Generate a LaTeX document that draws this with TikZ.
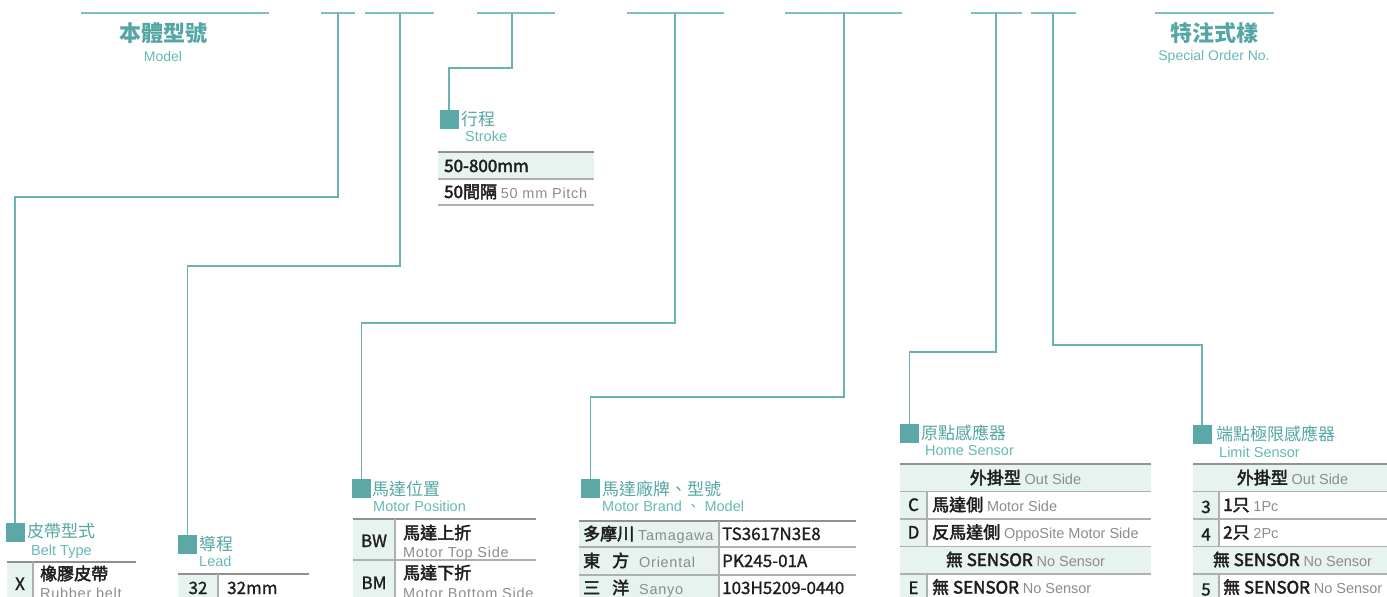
\documentclass[tikz,border=0pt]{standalone}
\usepackage{fontspec}
\setmainfont{Liberation Sans}
\newfontfamily\cjk{Noto Sans CJK TC}
\newfontfamily\cjkm[FakeBold=1.2]{Noto Sans CJK TC}
\newfontfamily\cjkb[FakeBold=2.6]{Noto Sans CJK TC}
\newfontfamily\engsp[LetterSpace=5]{Liberation Sans}
\newfontfamily\engn{Liberation Sans}
\definecolor{titleteal}{RGB}{84,166,165}
\definecolor{subteal}{RGB}{102,184,182}
\definecolor{sqteal}{RGB}{91,168,167}
\definecolor{connteal}{RGB}{104,178,178}
\definecolor{topteal}{RGB}{126,192,192}
\definecolor{cellg}{RGB}{230,243,239}
\definecolor{greytext}{RGB}{140,140,140}
\definecolor{txtblack}{RGB}{30,30,30}
\definecolor{tgray}{RGB}{145,145,145}
\definecolor{rgray}{RGB}{175,175,175}
\newcommand\gtx[1]{{\engsp\mdseries\fontsize{14.5}{14.5}\selectfont\color{greytext}#1}}
\newcommand\gts[1]{{\engn\mdseries\fontsize{14.5}{14.5}\selectfont\color{greytext}#1}}
\begin{document}
\begin{tikzpicture}[x=1pt,y=-1pt,
  topline/.style={draw=topteal,line width=2.2pt},
  conn/.style={draw=connteal,line width=1.4pt},
  sqbox/.style={fill=sqteal,minimum size=19pt,inner sep=0pt,outer sep=0pt},
  bigttl/.style={anchor=base,inner sep=0pt,text=titleteal,font=\cjk\bfseries\fontsize{22}{22}\selectfont},
  bigsub/.style={anchor=base,inner sep=0pt,text=subteal,font=\fontsize{14}{14}\selectfont},
  ttl/.style={anchor=base west,inner sep=0pt,text=titleteal,font=\cjk\fontsize{17}{17}\selectfont},
  subttl/.style={anchor=base west,inner sep=0pt,text=subteal,font=\fontsize{14.5}{14.5}\selectfont},
  cell/.style={anchor=base west,inner sep=0pt,text=txtblack,font=\cjkb\fontsize{17}{17}\selectfont},
  cellhd/.style={anchor=base,inner sep=0pt,text=txtblack,font=\cjkb\fontsize{17}{17}\selectfont},
  cellc/.style={anchor=base,inner sep=0pt,text=txtblack,font=\cjkm\fontsize{17}{17}\selectfont},
  cellm/.style={anchor=base west,inner sep=0pt,text=txtblack,font=\cjkm\fontsize{17}{17}\selectfont},
  grtxt/.style={anchor=base west,inner sep=0pt,text=greytext,font=\engsp\fontsize{14.5}{14.5}\selectfont},
  tline/.style={draw=tgray,line width=1.8pt},
  rline/.style={draw=rgray,line width=1.2pt},
  vline/.style={draw=rgray,line width=1.1pt}]
\useasboundingbox (0,0) rectangle (1387,597);
\clip (0,0) rectangle (1387,597);

% ---------- top segment lines ----------
\coordinate (l1a) at (81,13);   \coordinate (l1b) at (269,13);
\coordinate (l2a) at (321,13);  \coordinate (l2b) at (355,13);
\coordinate (l3a) at (365,13);  \coordinate (l3b) at (434,13);
\coordinate (l4a) at (477,13);  \coordinate (l4b) at (555,13);
\coordinate (l5a) at (627,13);  \coordinate (l5b) at (724,13);
\coordinate (l6a) at (785,13);  \coordinate (l6b) at (902,13);
\coordinate (l7a) at (971,13);  \coordinate (l7b) at (1022,13);
\coordinate (l8a) at (1031,13); \coordinate (l8b) at (1076,13);
\coordinate (l9a) at (1155,13); \coordinate (l9b) at (1274,13);
\foreach \i in {1,...,9} {\draw[topline] (l\i a) -- (l\i b);}

% ---------- big titles ----------
\node[bigttl] (model) at (163,41) {本體型號};
\node[bigsub] (modelen) at (163,61.5) {Model};
\node[bigttl] (special) at (1214,41) {特注式樣};
\node[bigsub] (specialen) at (1214,60) {Special Order No.};

% ---------- squares and titles ----------
\node[sqbox] (sqBelt) at (15,532) {};
\node[ttl] (tBelt) at (27,537.5) {皮帶型式};
\node[subttl] (eBelt) at (31,555.5) {Belt Type};

\node[sqbox] (sqLead) at (187.5,544) {};
\node[ttl] (tLead) at (199,550.5) {導程};
\node[subttl] (eLead) at (199,566.5) {Lead};

\node[sqbox] (sqStroke) at (449,119) {};
\node[ttl] (tStroke) at (461,125.5) {行程};
\node[subttl] (eStroke) at (465,141.5) {Stroke};

\node[sqbox] (sqPos) at (361.5,488.5) {};
\node[ttl] (tPos) at (372,495.5) {馬達位置};
\node[subttl] (ePos) at (373,511.5) {Motor Position};

\node[sqbox] (sqBrand) at (590.5,488.5) {};
\node[ttl] (tBrand) at (602,495.5) {馬達廠牌、型號};
\node[subttl] (eBrand) at (602,511.5) {Motor Brand {\cjk 、} Model};

\node[sqbox] (sqHome) at (909.5,433.5) {};
\node[ttl] (tHome) at (921,439.5) {原點感應器};
\node[subttl] (eHome) at (925,455.5) {Home Sensor};

\node[sqbox] (sqLimit) at (1202,434) {};
\node[ttl] (tLimit) at (1216,440.5) {端點極限感應器};
\node[subttl] (eLimit) at (1219,457.5) {Limit Sensor};

% ---------- connectors ----------
\coordinate (t2) at (338,13);  \coordinate (b2) at (338,197);
\coordinate (t3) at (400,13);  \coordinate (b3) at (400,266);
\coordinate (t4) at (512,13);  \coordinate (b4) at (512,68);
\coordinate (t5) at (675,13);  \coordinate (b5) at (675,323);
\coordinate (t6) at (844,13);  \coordinate (b6) at (844,397);
\coordinate (t7) at (996,13);  \coordinate (b7) at (996,352);
\coordinate (t8) at (1053,13); \coordinate (b8) at (1053,345);
\draw[conn] (t2) -- (b2) -| (sqBelt.north);
\draw[conn] (t3) -- (b3) -| (sqLead.north);
\draw[conn] (t4) -- (b4) -| (sqStroke.north);
\draw[conn] (t5) -- (b5) -| (sqPos.north);
\draw[conn] (t6) -- (b6) -| (sqBrand.north);
\draw[conn] (t7) -- (b7) -| (sqHome.north);
\draw[conn] (t8) -- (b8) -| (sqLimit.north);

% ---------- table: belt type ----------
\fill[cellg] (7,562) rectangle (33,600);
\draw[tline] (7,562) -- (136,562);
\draw[vline] (33,562) -- (33,600);
\node[cellc] (bX) at (20,590) {X};
\node[cell] (bXc) at (40,580) {橡膠皮帶};
\node[grtxt] (bXe) at (40,598) {Rubber belt};

% ---------- table: lead ----------
\fill[cellg] (178,574) rectangle (218,600);
\draw[tline] (178,574) -- (309,574);
\draw[vline] (218,574) -- (218,600);
\node[cellc] (l32) at (198,594) {32};
\node[cellm] (l32mm) at (227,594) {32mm};

% ---------- table: stroke ----------
\fill[cellg] (438,152) rectangle (594,179);
\draw[tline] (438,152) -- (594,152);
\draw[rline] (438,179) -- (594,179);
\draw[rline] (438,205) -- (594,205);
\node[cell] (s1) at (444,172) {50-800mm};
\node[cell] (s2) at (444,198) {50間隔 \gtx{50 mm Pitch}};

% ---------- table: motor position ----------
\fill[cellg] (353,519) rectangle (395,600);
\draw[tline] (353,519) -- (536,519);
\draw[rline] (353,560) -- (536,560);
\draw[vline] (395,519) -- (395,600);
\node[cellc] (pBW) at (374,547) {BW};
\node[cell] (pBWc) at (403,539) {馬達上折};
\node[grtxt] (pBWe) at (403,557) {Motor Top Side};
\node[cellc] (pBM) at (374,589) {BM};
\node[cell] (pBMc) at (403,579) {馬達下折};
\node[grtxt] (pBMe) at (403,598) {Motor Bottom Side};

% ---------- table: motor brand ----------
\fill[cellg] (579,521) rectangle (719,600);
\draw[tline] (579,521) -- (856,521);
\draw[rline] (579,547) -- (856,547);
\draw[rline] (579,575) -- (856,575);
\draw[vline] (719,521) -- (719,600);
\node[cell] (m1) at (583,540) {多摩川};
\node[grtxt] (m1e) at (638,540) {Tamagawa};
\node[cell] (m2a) at (583,567) {東};
\node[cell] (m2b) at (612,567) {方};
\node[grtxt] (m2e) at (639,567) {Oriental};
\node[cell] (m3a) at (583,594) {三};
\node[cell] (m3b) at (612,594) {洋};
\node[grtxt] (m3e) at (639,594) {Sanyo};
\node[cellm] (c1) at (722,540) {TS3617N3E8};
\node[cellm] (c2) at (722,567) {PK245-01A};
\node[cellm] (c3) at (722,594) {103H5209-0440};

% ---------- table: home sensor ----------
\fill[cellg] (900,464) rectangle (1151,491.5);
\fill[cellg] (900,491.5) rectangle (927,546.5);
\fill[cellg] (900,546.5) rectangle (1151,574);
\fill[cellg] (900,574) rectangle (927,600);
\draw[tline] (900,464) -- (1151,464);
\draw[rline] (900,491.5) -- (1151,491.5);
\draw[rline] (900,519) -- (1151,519);
\draw[rline] (900,546.5) -- (1151,546.5);
\draw[rline] (900,574) -- (1151,574);
\draw[vline] (927,491.5) -- (927,546.5);
\draw[vline] (927,574) -- (927,600);
\node[cellhd] (h0) at (1025.5,484) {外掛型 \gts{Out Side}};
\node[cellc] (hC) at (913.5,511) {C};
\node[cell] (hCt) at (932,511) {馬達側 \gts{Motor Side}};
\node[cellc] (hD) at (913.5,538.5) {D};
\node[cell] (hDt) at (932,538.5) {反馬達側 \gts{OppoSite Motor Side}};
\node[cellhd] (hN) at (1025.5,566) {無 SENSOR \gts{No Sensor}};
\node[cellc] (hE) at (913.5,594) {E};
\node[cell] (hEt) at (932,593.5) {無 SENSOR \gts{No Sensor}};

% ---------- table: limit sensor ----------
\fill[cellg] (1193,464) rectangle (1392,491.5);
\fill[cellg] (1193,491.5) rectangle (1219,546.5);
\fill[cellg] (1193,546.5) rectangle (1392,574);
\fill[cellg] (1193,574) rectangle (1219,600);
\draw[tline] (1193,464) -- (1392,464);
\draw[rline] (1193,491.5) -- (1392,491.5);
\draw[rline] (1193,519) -- (1392,519);
\draw[rline] (1193,546.5) -- (1392,546.5);
\draw[rline] (1193,574) -- (1392,574);
\draw[vline] (1219,491.5) -- (1219,546.5);
\draw[vline] (1219,574) -- (1219,600);
\node[cellhd] (k0) at (1292.5,484) {外掛型 \gts{Out Side}};
\node[cellc] (k3) at (1206,513) {3};
\node[cell] (k3t) at (1223,511) {1只 \gts{1Pc}};
\node[cellc] (k4) at (1206,540.5) {4};
\node[cell] (k4t) at (1223,538.5) {2只 \gts{2Pc}};
\node[cellhd] (kN) at (1292.5,566) {無 SENSOR \gts{No Sensor}};
\node[cellc] (k5) at (1206,595.5) {5};
\node[cell] (k5t) at (1223,593.5) {無 SENSOR \gts{No Sensor}};
\end{tikzpicture}
\end{document}
